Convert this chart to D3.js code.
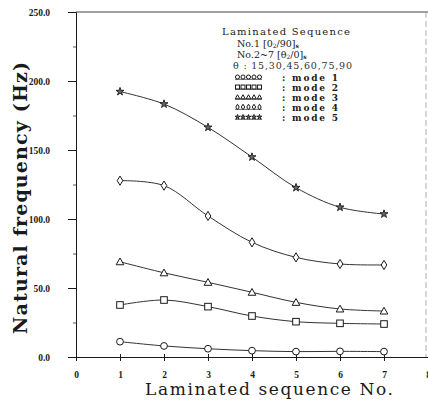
<!DOCTYPE html>
<html>
<head>
<meta charset="utf-8">
<script src="https://cdn.jsdelivr.net/npm/d3@7"></script>
<style>
  html, body { margin: 0; padding: 0; background: #fff; }
  svg { display: block; }
</style>
</head>
<body>
<svg id="chart" width="428" height="401"></svg>
<script>
// Laminated sequence numbers on the x axis
const sequences = [1, 2, 3, 4, 5, 6, 7];

// Natural frequencies (Hz) for each vibration mode
const mode1 = [11.1, 8.0, 6.0, 4.6, 3.9, 4.1, 3.9];
const mode2 = [37.7, 41.3, 36.5, 29.7, 25.6, 24.4, 23.9];
const mode3 = [69.0, 61.0, 54.1, 46.9, 39.6, 34.8, 33.3];
const mode4 = [127.8, 124.2, 102.2, 83.1, 72.2, 67.4, 66.7];
const mode5 = [192.3, 183.3, 166.4, 144.9, 122.7, 108.5, 103.6];

const modeNames = ["mode 1", "mode 2", "mode 3", "mode 4", "mode 5"];
const yTicks = [0, 50, 100, 150, 200, 250];
const yMinorTicks = [25, 75, 125, 175, 225];
const xTicks = [0, 1, 2, 3, 4, 5, 6, 7, 8];

const series = [
  { name: modeNames[0], values: mode1, symbol: "circle" },
  { name: modeNames[1], values: mode2, symbol: "square" },
  { name: modeNames[2], values: mode3, symbol: "triangle" },
  { name: modeNames[3], values: mode4, symbol: "diamond" },
  { name: modeNames[4], values: mode5, symbol: "star" }
];

const svg = d3.select("#chart");
const x = d3.scaleLinear().domain([0, 8]).range([76, 428]);
const y = d3.scaleLinear().domain([0, 250]).range([357, 12]);

const ink = "#1a1a1a";

// Frame on the top and right
svg.append("line").attr("x1", x(0)).attr("x2", 428).attr("y1", y(250)).attr("y2", y(250))
  .attr("stroke", "#444").attr("stroke-width", 1);
svg.append("line").attr("x1", 426).attr("x2", 426).attr("y1", y(250)).attr("y2", y(0))
  .attr("stroke", "#999").attr("stroke-width", 0.8).attr("stroke-dasharray", "6,3");

// Y axis: long major ticks and short minor ticks, both outward
const yAxis = d3.axisLeft(y).tickValues(yTicks).tickSize(8).tickPadding(18)
  .tickFormat(d => d.toFixed(1));
const gy = svg.append("g").attr("transform", `translate(${x(0)},0)`).call(yAxis);
gy.select(".domain").attr("stroke", ink).attr("stroke-width", 1);
gy.selectAll(".tick line").attr("stroke", ink);
gy.selectAll(".tick text")
  .attr("font-family", "Liberation Serif, serif").attr("font-weight", "bold")
  .attr("font-size", 9.5).attr("fill", ink);
const yMinor = d3.axisLeft(y).tickValues(yMinorTicks).tickSize(3).tickFormat("");
const gym = svg.append("g").attr("transform", `translate(${x(0)},0)`).call(yMinor);
gym.select(".domain").remove();
gym.selectAll(".tick line").attr("stroke", "#555");

// X axis: ticks crossing the baseline
const xAxis = d3.axisBottom(x).tickValues(xTicks).tickSize(4).tickPadding(10)
  .tickFormat(d3.format("d"));
const gx = svg.append("g").attr("transform", `translate(0,${y(0)})`).call(xAxis);
gx.select(".domain").attr("stroke", ink).attr("stroke-width", 1);
gx.selectAll(".tick line").attr("stroke", ink).attr("y1", -3);
gx.selectAll(".tick text")
  .attr("font-family", "Liberation Serif, serif").attr("font-weight", "bold")
  .attr("font-size", 9.5).attr("fill", ink);

// Axis titles
svg.append("text")
  .attr("x", 269).attr("y", 395).attr("text-anchor", "middle")
  .attr("font-family", "DejaVu Serif, serif").attr("font-size", 17)
  .attr("textLength", 248).attr("lengthAdjust", "spacing")
  .attr("fill", ink).text("Laminated sequence No.");
svg.append("text")
  .attr("transform", "translate(27,198) rotate(-90)").attr("text-anchor", "middle")
  .attr("font-family", "DejaVu Serif, serif").attr("font-size", 19).attr("font-weight", "bold")
  .attr("textLength", 272).attr("lengthAdjust", "spacing")
  .attr("fill", ink).text("Natural frequency (Hz)");

// Marker shapes
function marker(sel, kind, s) {
  const k = s / 7;
  if (kind === "circle") {
    sel.append("circle").attr("r", 3.4 * k).attr("fill", "#fff").attr("stroke", ink).attr("stroke-width", 1);
  } else if (kind === "square") {
    sel.append("rect").attr("x", -3.3 * k).attr("y", -3.3 * k).attr("width", 6.6 * k).attr("height", 6.6 * k)
      .attr("fill", "#fff").attr("stroke", ink).attr("stroke-width", 1);
  } else if (kind === "triangle") {
    sel.append("path").attr("d", `M0,${-3.8 * k}L${3.8 * k},${3 * k}L${-3.8 * k},${3 * k}Z`)
      .attr("fill", "#fff").attr("stroke", ink).attr("stroke-width", 1);
  } else if (kind === "diamond") {
    sel.append("path").attr("d", `M0,${-4.6 * k}L${2.8 * k},0L0,${4.6 * k}L${-2.8 * k},0Z`)
      .attr("fill", "#fff").attr("stroke", ink).attr("stroke-width", 1);
  } else {
    sel.append("path").attr("d", d3.symbol(d3.symbolStar, 20 * k * k)())
      .attr("fill", "#666").attr("stroke", ink).attr("stroke-width", 0.9);
  }
}

const line = d3.line()
  .x((d, i) => x(sequences[i]))
  .y(d => y(d))
  .curve(d3.curveCatmullRom.alpha(0.5));

series.forEach(s => {
  svg.append("path").attr("d", line(s.values))
    .attr("fill", "none").attr("stroke", "#333").attr("stroke-width", 1);
  s.values.forEach((v, i) => {
    const g = svg.append("g").attr("transform", `translate(${x(sequences[i])},${y(v)})`);
    marker(g, s.symbol, 7);
  });
});

// Legend block
const serif = "DejaVu Serif, serif";
const lg = svg.append("g").attr("fill", ink).attr("font-family", serif);
lg.append("text").attr("x", 222).attr("y", 35).attr("font-size", 10)
  .attr("textLength", 128).attr("lengthAdjust", "spacing").text("Laminated Sequence");

const t1 = lg.append("text").attr("x", 237).attr("y", 47).attr("font-size", 9.5);
t1.append("tspan").text("No.1 [0");
t1.append("tspan").attr("font-size", 6).attr("dy", 1).text("2");
t1.append("tspan").attr("dy", -1).text("/90]");
t1.append("tspan").attr("font-size", 6).attr("dy", 1).attr("font-weight", "bold").text("s");

const t2 = lg.append("text").attr("x", 237).attr("y", 58).attr("font-size", 9.5);
t2.append("tspan").text("No.2~7 [θ");
t2.append("tspan").attr("font-size", 6).attr("dy", 1).text("2");
t2.append("tspan").attr("dy", -1).text("/0]");
t2.append("tspan").attr("font-size", 6).attr("dy", 1).attr("font-weight", "bold").text("s");

lg.append("text").attr("x", 233).attr("y", 69).attr("font-size", 9.5)
  .attr("fill", "#333").attr("textLength", 119).attr("lengthAdjust", "spacing")
  .text("θ : 15,30,45,60,75,90");

series.forEach((s, i) => {
  const yy = 77 + i * 10;
  const row = lg.append("g");
  row.append("line").attr("x1", 235).attr("x2", 262).attr("y1", yy + 2.3).attr("y2", yy + 2.3)
    .attr("stroke", "#333").attr("stroke-width", 0.8);
  for (let j = 0; j < 5; j++) {
    const g = row.append("g").attr("transform", `translate(${237.5 + j * 5.5},${yy})`);
    marker(g, s.symbol, 4.2);
  }
  row.append("text").attr("x", 282).attr("y", yy + 3.5).attr("font-size", 9)
    .attr("font-weight", "bold").attr("textLength", 56).attr("lengthAdjust", "spacing")
    .text(": " + s.name);
});
</script>
</body>
</html>
